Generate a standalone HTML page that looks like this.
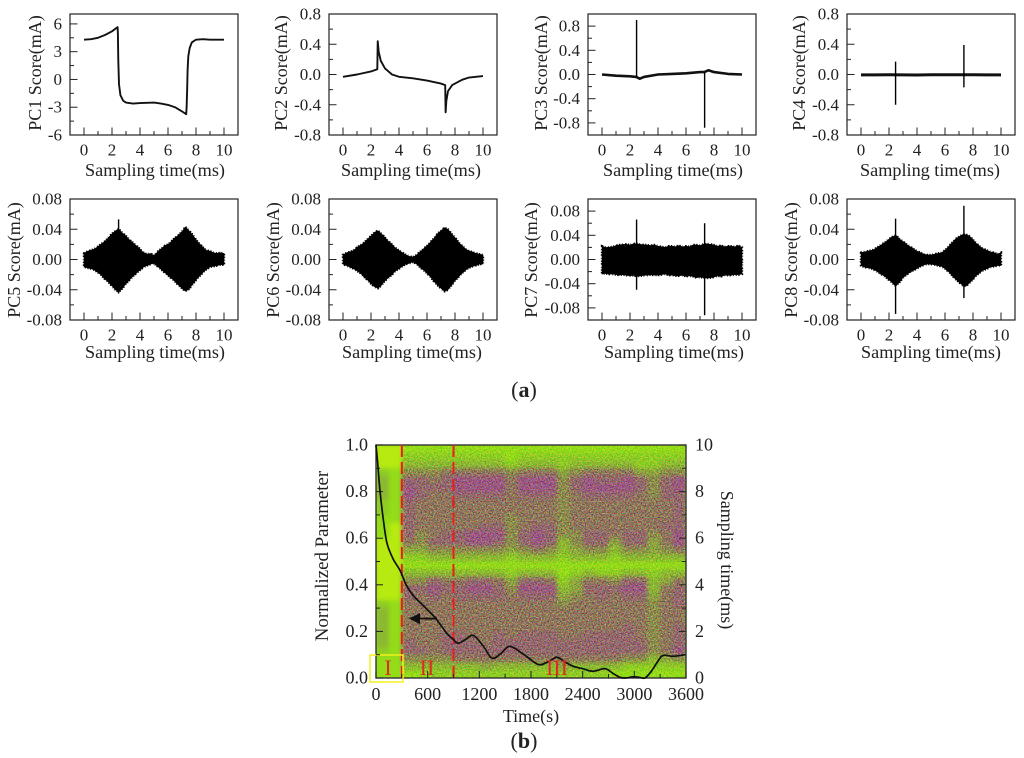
<!DOCTYPE html>
<html lang="en">
<head>
<meta charset="utf-8">
<title>PC scores and normalized parameter</title>
<style>
html,body{margin:0;padding:0;background:#fff;}
#figure{display:block;width:1024px;height:758px;filter:blur(0.35px);}
text{font-family:"Liberation Serif",serif;fill:#222;}
.tick{font-size:17px;}
.xt{font-size:18.2px;text-anchor:middle;}
.yt{font-size:18px;text-anchor:middle;}
.big{font-size:18px;}
</style>
</head>
<body>
<svg id="figure" xmlns="http://www.w3.org/2000/svg" width="1024" height="758" viewBox="0 0 1024 758">
  <defs>
    <filter id="soft" x="-5%" y="-5%" width="110%" height="110%" color-interpolation-filters="sRGB"><feGaussianBlur stdDeviation="2.2"/></filter>
    <filter id="grain" x="0" y="0" width="100%" height="100%" color-interpolation-filters="sRGB">
      <feTurbulence type="fractalNoise" baseFrequency="0.75" numOctaves="2" seed="4"/>
      <feColorMatrix type="matrix" values="2.2 0 0 0 -0.6  0 2.2 0 0 -0.6  0 0 2.2 0 -0.6  0 0 0 0 0.6"/>
    </filter>
    <clipPath id="heat-clip"><rect x="376" y="445" width="310" height="233"/></clipPath>
  </defs>
  <rect width="1024" height="758" fill="#fff"/>

  <g id="panel-pc1">
    <text class="xt" x="155" y="176">Sampling time(ms)</text>
    <text class="yt" transform="translate(41,73) rotate(-90)">PC1 Score(mA)</text>
  </g>
  <g id="panel-pc2">
    <text class="xt" x="411" y="176">Sampling time(ms)</text>
    <text class="yt" transform="translate(287,73) rotate(-90)">PC2 Score(mA)</text>
  </g>
  <g id="panel-pc3">
    <text class="xt" x="673" y="176">Sampling time(ms)</text>
    <text class="yt" transform="translate(547,73) rotate(-90)">PC3 Score(mA)</text>
  </g>
  <g id="panel-pc4">
    <text class="xt" x="930" y="176">Sampling time(ms)</text>
    <text class="yt" transform="translate(805,73) rotate(-90)">PC4 Score(mA)</text>
  </g>
  <g id="panel-pc5">
    <text class="xt" x="155" y="358">Sampling time(ms)</text>
    <text class="yt" transform="translate(20,260) rotate(-90)">PC5 Score(mA)</text>
  </g>
  <g id="panel-pc6">
    <text class="xt" x="412" y="358">Sampling time(ms)</text>
    <text class="yt" transform="translate(279,260) rotate(-90)">PC6 Score(mA)</text>
  </g>
  <g id="panel-pc7">
    <text class="xt" x="674" y="358">Sampling time(ms)</text>
    <text class="yt" transform="translate(537,260) rotate(-90)">PC7 Score(mA)</text>
  </g>
  <g id="panel-pc8">
    <text class="xt" x="931" y="358">Sampling time(ms)</text>
    <text class="yt" transform="translate(797,260) rotate(-90)">PC8 Score(mA)</text>
  </g>

  <text x="524" y="397" text-anchor="middle" style="font-size:22px">(<tspan font-weight="bold">a</tspan>)</text>

  <g id="panel-b">
    <g id="heat-layer" clip-path="url(#heat-clip)"></g>
    <g id="b-overlay"></g>
    <text class="big" x="531" y="722" text-anchor="middle">Time(s)</text>
    <text transform="translate(328,556) rotate(-90)" text-anchor="middle" style="font-size:18.9px">Normalized Parameter</text>
    <text class="big" transform="translate(721,560) rotate(90)" text-anchor="middle">Sampling time(ms)</text>
    <text x="388" y="675" text-anchor="middle" style="font-size:22px;fill:#e02a20">I</text>
    <text x="427" y="675" text-anchor="middle" style="font-size:22px;fill:#e02a20">II</text>
    <text x="557" y="675" text-anchor="middle" style="font-size:22px;fill:#e02a20">III</text>
  </g>
  <text x="524" y="748" text-anchor="middle" style="font-size:22px">(<tspan font-weight="bold">b</tspan>)</text>
</svg>

<script>
// ---------- shared x-axis labels ----------
const xTickLabels = ['0','2','4','6','8','10'];
const xTickValues = [0,2,4,6,8,10];
const xMinorValues = [1,3,5,7,9];

// ---------- PC1 ----------
const pc1Times = [0,0.5,1,1.5,2,2.4,2.42,2.45,2.5,2.6,2.8,3,3.5,4,5,5.5,6,6.5,7,7.3,7.33,7.37,7.4,7.45,7.55,7.7,8,8.5,9,10];
const pc1Scores = [4.3,4.35,4.5,4.8,5.2,5.65,5,2,-0.5,-1.7,-2.3,-2.5,-2.6,-2.55,-2.5,-2.6,-2.75,-3,-3.45,-3.75,-3,-1,1,2.5,3.4,4,4.3,4.35,4.3,4.3];
const pc1YTicks = [-6,-3,0,3,6];
const pc1YLabels = ['-6','-3','0','3','6'];

// ---------- PC2 ----------
const pc2Times = [0,1,2,2.45,2.48,2.55,2.7,3,3.5,4,5,6,7,7.3,7.33,7.38,7.5,7.8,8.5,9,10];
const pc2Scores = [-0.03,0,0.04,0.07,0.44,0.3,0.18,0.08,0,-0.03,-0.05,-0.08,-0.12,-0.14,-0.5,-0.35,-0.22,-0.14,-0.07,-0.04,-0.02];
const pc2YTicks = [-0.8,-0.4,0,0.4,0.8];
const pc2YLabels = ['-0.8','-0.4','0.0','0.4','0.8'];

// ---------- PC3 ----------
const pc3Times = [0,1,2,2.45,2.7,3,4,5,6,7,7.3,7.6,8,9,10];
const pc3Scores = [0,-0.02,-0.03,-0.04,-0.07,-0.04,0,0.01,0.02,0.04,0.04,0.07,0.04,0.01,0];
const pc3SpikeTimes = [2.47,7.33];
const pc3SpikeHigh = [0.9,0.04];
const pc3SpikeLow = [-0.03,-0.88];
const pc3YTicks = [-0.8,-0.4,0,0.4,0.8];
const pc3YLabels = ['-0.8','-0.4','0.0','0.4','0.8'];

// ---------- PC4 ----------
const pc4Times = [0,1,2,3,4,5,6,7,8,9,10];
const pc4Scores = [-0.005,-0.005,-0.004,-0.005,-0.006,-0.004,-0.003,-0.003,-0.004,-0.005,-0.005];
const pc4SpikeTimes = [2.47,7.35];
const pc4SpikeHigh = [0.17,0.39];
const pc4SpikeLow = [-0.4,-0.17];
const pc4YTicks = [-0.8,-0.4,0,0.4,0.8];
const pc4YLabels = ['-0.8','-0.4','0.0','0.4','0.8'];

// ---------- envelope panels PC5-PC8 ----------
const envTimes = [0,0.25,0.5,0.75,1,1.25,1.5,1.75,2,2.25,2.5,2.75,3,3.25,3.5,3.75,4,4.25,4.5,4.75,5,5.25,5.5,5.75,6,6.25,6.5,6.75,7,7.25,7.5,7.75,8,8.25,8.5,8.75,9,9.25,9.5,9.75,10];
const scoreYTicks = [-0.08,-0.04,0,0.04,0.08];
const scoreYLabels = ['-0.08','-0.04','0.00','0.04','0.08'];

const pc5Upper = [0.008,0.011,0.012,0.014,0.017,0.021,0.024,0.029,0.034,0.038,0.040,0.035,0.031,0.026,0.022,0.018,0.014,0.009,0.007,0.008,0.005,0.010,0.014,0.018,0.020,0.024,0.029,0.032,0.037,0.043,0.038,0.033,0.026,0.021,0.016,0.012,0.011,0.009,0.008,0.009,0.008];
const pc5Lower = [-0.010,-0.011,-0.012,-0.014,-0.017,-0.021,-0.026,-0.030,-0.035,-0.040,-0.043,-0.038,-0.032,-0.027,-0.022,-0.018,-0.014,-0.010,-0.008,-0.006,-0.005,-0.009,-0.013,-0.017,-0.021,-0.025,-0.029,-0.034,-0.038,-0.042,-0.039,-0.033,-0.027,-0.022,-0.017,-0.013,-0.010,-0.009,-0.008,-0.007,-0.007];
const pc5SpikeTimes = [2.47];
const pc5SpikeHigh = [0.053];
const pc5SpikeLow = [-0.045];

const pc6Upper = [0.006,0.009,0.010,0.012,0.016,0.019,0.022,0.027,0.031,0.036,0.038,0.034,0.029,0.024,0.020,0.015,0.012,0.009,0.006,0.004,0.003,0.006,0.010,0.014,0.018,0.023,0.028,0.034,0.038,0.042,0.040,0.034,0.029,0.023,0.018,0.014,0.011,0.010,0.008,0.007,0.006];
const pc6Lower = [-0.006,-0.008,-0.010,-0.012,-0.015,-0.018,-0.023,-0.027,-0.032,-0.036,-0.038,-0.034,-0.028,-0.024,-0.020,-0.015,-0.012,-0.009,-0.006,-0.005,-0.003,-0.006,-0.010,-0.014,-0.018,-0.023,-0.029,-0.034,-0.038,-0.042,-0.040,-0.034,-0.028,-0.023,-0.018,-0.014,-0.011,-0.009,-0.008,-0.006,-0.006];
const pc6SpikeTimes = [];
const pc6SpikeHigh = [];
const pc6SpikeLow = [];

const pc7Upper = [0.022,0.020,0.020,0.021,0.023,0.024,0.025,0.025,0.024,0.026,0.026,0.025,0.024,0.024,0.023,0.024,0.022,0.021,0.020,0.022,0.022,0.021,0.023,0.021,0.022,0.021,0.024,0.024,0.023,0.025,0.026,0.025,0.024,0.022,0.023,0.021,0.022,0.022,0.021,0.023,0.020];
const pc7Lower = [-0.024,-0.023,-0.024,-0.024,-0.025,-0.026,-0.025,-0.026,-0.027,-0.026,-0.028,-0.027,-0.026,-0.026,-0.025,-0.026,-0.026,-0.025,-0.024,-0.026,-0.026,-0.027,-0.027,-0.026,-0.028,-0.027,-0.028,-0.030,-0.029,-0.030,-0.031,-0.030,-0.029,-0.027,-0.028,-0.026,-0.026,-0.026,-0.025,-0.025,-0.024];
const pc7SpikeTimes = [2.47,7.33];
const pc7SpikeHigh = [0.066,0.060];
const pc7SpikeLow = [-0.050,-0.092];

const pc8Upper = [0.009,0.010,0.011,0.012,0.014,0.017,0.020,0.023,0.027,0.030,0.032,0.027,0.024,0.020,0.017,0.014,0.011,0.009,0.007,0.006,0.006,0.007,0.008,0.009,0.012,0.017,0.022,0.027,0.030,0.033,0.033,0.031,0.026,0.021,0.017,0.014,0.012,0.010,0.009,0.007,0.009];
const pc8Lower = [-0.008,-0.010,-0.011,-0.012,-0.014,-0.017,-0.020,-0.023,-0.027,-0.031,-0.035,-0.030,-0.024,-0.020,-0.017,-0.014,-0.012,-0.009,-0.007,-0.006,-0.006,-0.007,-0.008,-0.009,-0.012,-0.016,-0.021,-0.026,-0.030,-0.034,-0.035,-0.031,-0.026,-0.021,-0.017,-0.014,-0.012,-0.010,-0.009,-0.008,-0.008];
const pc8SpikeTimes = [2.47,7.35];
const pc8SpikeHigh = [0.054,0.071];
const pc8SpikeLow = [-0.072,-0.051];

// ---------- panel (b) ----------
const timeTickValues = [0,600,1200,1800,2400,3000,3600];
const timeTickLabels = ['0','600','1200','1800','2400','3000','3600'];
const normTickValues = [0,0.2,0.4,0.6,0.8,1];
const normTickLabels = ['0.0','0.2','0.4','0.6','0.8','1.0'];
const samplingTickValues = [0,2,4,6,8,10];
const samplingTickLabels = ['0','2','4','6','8','10'];
const regionBoundaries = [300,900];
const normTimes = [0,20,46,85,128,200,279,350,430,550,685,825,900,952,1040,1127,1240,1347,1450,1556,1720,1885,2000,2100,2190,2290,2400,2520,2660,2750,2834,2900,2985,3060,3124,3200,3270,3333,3450,3590];
const normValues = [1,0.92,0.805,0.68,0.578,0.51,0.462,0.40,0.355,0.31,0.26,0.19,0.165,0.149,0.165,0.183,0.14,0.085,0.105,0.136,0.10,0.058,0.07,0.089,0.07,0.05,0.04,0.029,0.04,0.02,0.003,0,0.005,0.003,0,0.03,0.07,0.097,0.093,0.10];
// Heatmap intensity: rows run from sampling time 10 ms (top) to 0 ms; columns are 150 s wide.
const heatRows = [
[0,0,1,1,1,1,1,1,1,1,1,1,1,1,1,1,1,1,1,1,1,1,1,1],
[0,0,2,2,2,2,2,2,2,2,1,2,2,2,2,2,2,2,2,2,2,2,2,2],
[0,0,3,3,3,3,3,3,3,3,2,3,3,3,2,3,3,3,3,3,2,2,3,3],
[2,1,5,5,5,6,6,6,6,6,5,6,6,6,4,5,6,6,6,6,4,4,5,5],
[3,1,7,7,6,7,8,8,8,8,6,8,8,8,5,7,8,7,7,8,7,5,7,8],
[3,1,8,7,7,7,8,8,8,8,6,8,8,8,5,7,8,8,8,8,7,5,7,8],
[3,1,8,7,6,6,7,7,7,7,6,7,7,7,5,6,7,7,7,7,6,5,7,7],
[2,1,7,6,6,6,6,6,6,6,6,6,6,6,5,6,6,6,6,6,6,6,6,7],
[2,1,7,6,6,6,6,6,6,6,6,6,6,6,5,6,6,6,6,6,6,6,6,7],
[1,1,7,6,6,6,6,6,6,6,5,6,6,6,5,6,6,6,6,6,6,6,6,7],
[1,0,7,6,6,6,6,6,7,7,5,6,7,7,5,6,6,6,6,6,6,6,7,7],
[1,0,7,5,6,7,7,8,8,8,5,7,8,7,5,5,7,7,6,7,7,5,6,8],
[0,0,6,5,7,7,7,8,8,7,5,7,8,7,3,5,7,7,4,7,7,4,6,8],
[0,0,4,4,5,5,5,5,5,5,4,5,6,5,3,4,5,5,3,5,5,4,5,6],
[0,0,2,2,3,3,3,3,3,3,2,3,3,3,2,3,3,3,2,3,3,3,3,3],
[0,0,1,1,1,1,1,1,1,1,1,1,1,1,1,1,1,1,1,1,1,1,1,1],
[0,0,3,3,3,3,3,3,3,3,2,3,3,3,1,2,3,2,2,3,3,2,3,3],
[0,0,5,5,7,6,6,7,7,6,4,7,7,6,2,4,6,6,5,7,7,3,4,6],
[0,0,7,7,8,7,7,8,8,7,5,8,8,8,3,4,7,7,7,8,8,3,6,7],
[0,0,7,6,7,6,7,7,7,7,6,7,7,7,4,5,6,7,6,7,7,4,6,7],
[2,1,6,6,6,6,6,6,6,6,6,6,6,6,5,6,6,6,6,6,6,5,6,7],
[3,1,6,6,6,6,6,6,6,6,6,6,6,6,6,6,6,6,6,6,6,5,6,6],
[3,1,6,6,6,6,6,6,6,6,6,6,6,6,6,6,6,6,6,6,6,5,6,6],
[3,1,6,6,6,6,6,6,6,6,6,6,6,6,6,6,6,6,6,7,6,5,6,7],
[3,1,6,6,6,7,7,6,6,7,6,7,7,7,6,6,7,7,7,7,6,5,6,7],
[3,1,7,6,6,7,7,7,6,7,7,7,7,7,7,7,7,7,7,7,7,5,6,7],
[2,1,7,7,6,7,7,7,7,7,7,7,7,7,7,7,7,7,7,7,7,5,6,8],
[1,1,5,5,5,5,6,6,6,6,6,6,6,6,6,6,6,6,6,5,5,3,4,5],
[1,1,3,3,3,3,3,3,4,3,3,3,3,3,4,3,3,3,3,2,2,2,2,2],
[1,1,1,1,2,2,2,2,2,2,2,2,2,2,2,2,2,2,1,1,1,1,1,1]
];
const heatPalette = ['#b6ea10','#94dc18','#8ecc24','#8cb832','#8ca440','#8c8c4c','#8f765c','#93686c','#9a5880','#a04a94'];

// ---------- drawing ----------
const NS = 'http://www.w3.org/2000/svg';
const INK = '#222';

function make(parent, tag, attrs) {
  const el = document.createElementNS(NS, tag);
  for (const k in attrs) el.setAttribute(k, attrs[k]);
  parent.appendChild(el);
  return el;
}

function linearScale(d0, d1, r0, r1) {
  return v => r0 + (v - d0) * (r1 - r0) / (d1 - d0);
}

function polyPath(xs, ys, sx, sy) {
  return xs.map((x, i) => (i ? 'L' : 'M') + sx(x).toFixed(2) + ' ' + sy(ys[i]).toFixed(2)).join('');
}

function drawFrame(g, prefix, box, yMin, yMax, yTicks, yLabels, sx, sy) {
  const frame = make(g, 'rect', {x: box.left, y: box.top, width: box.right - box.left, height: box.bottom - box.top, fill: 'none', stroke: INK, 'stroke-width': 1.2});
  
  

  xTickValues.forEach((v, i) => {
    const t = make(g, 'line', {x1: sx(v), x2: sx(v), y1: box.bottom, y2: box.bottom - 7.5, stroke: INK, 'stroke-width': 1});
    
    
    const lab = make(g, 'text', {class: 'tick', x: sx(v), y: box.bottom + 20.5, 'text-anchor': 'middle'});
    
    
    lab.textContent = xTickLabels[i];
  });
  xMinorValues.forEach(v => {
    const t = make(g, 'line', {x1: sx(v), x2: sx(v), y1: box.bottom, y2: box.bottom - 4, stroke: INK, 'stroke-width': 1});
    
    
  });
  const step = yTicks[1] - yTicks[0];
  yTicks.forEach((v, i) => {
    const t = make(g, 'line', {x1: box.left, x2: box.left + 7.5, y1: sy(v), y2: sy(v), stroke: INK, 'stroke-width': 1});
    
    
    const lab = make(g, 'text', {class: 'tick', x: box.left - 8, y: sy(v) + 5.5, 'text-anchor': 'end'});
    
    
    lab.textContent = yLabels[i];
    const mv = v + step / 2;
    if (mv < yMax && i < yTicks.length - 1) {
      const m = make(g, 'line', {x1: box.left, x2: box.left + 4, y1: sy(mv), y2: sy(mv), stroke: INK, 'stroke-width': 1});
      
      
    }
  });
}

function drawSpikes(g, prefix, times, highs, lows, sx, sy) {
  times.forEach((t, i) => {
    const s = make(g, 'line', {x1: sx(t), x2: sx(t), y1: sy(highs[i]), y2: sy(lows[i]), stroke: '#000', 'stroke-width': 1.4});
    
    
  });
}

function setupPanel(id, left, top, yMin, yMax) {
  const box = {left: left, right: left + 168, top: top, bottom: top + 121};
  return {
    g: document.getElementById('panel-' + id),
    box: box,
    sx: linearScale(-1, 11, box.left, box.right),
    sy: linearScale(yMin, yMax, box.bottom, box.top)
  };
}

function linePanel(id, left, top, yMin, yMax, yTicks, yLabels, times, scores, width, spikes) {
  const p = setupPanel(id, left, top, yMin, yMax);
  drawFrame(p.g, id, p.box, yMin, yMax, yTicks, yLabels, p.sx, p.sy);
  const line = make(p.g, 'path', {d: polyPath(times, scores, p.sx, p.sy), fill: 'none', stroke: '#111', 'stroke-width': width, 'stroke-linejoin': 'round'});
  
  
  if (spikes) drawSpikes(p.g, id, spikes[0], spikes[1], spikes[2], p.sx, p.sy);
}

function envelopePanel(id, left, top, yMin, yMax, yTicks, yLabels, upper, lower, spikes) {
  const p = setupPanel(id, left, top, yMin, yMax);
  drawFrame(p.g, id, p.box, yMin, yMax, yTicks, yLabels, p.sx, p.sy);
  const d = polyPath(envTimes, upper, p.sx, p.sy) +
    envTimes.slice().reverse().map((t, i) => 'L' + p.sx(t).toFixed(2) + ' ' + p.sy(lower[lower.length - 1 - i]).toFixed(2)).join('') + 'Z';
  const env = make(p.g, 'path', {d: d, fill: '#000', stroke: '#000', 'stroke-width': 0.6, 'stroke-linejoin': 'round'});
  
  
  const rough = make(p.g, 'path', {d: d, fill: 'none', stroke: '#000', 'stroke-width': 2.4, 'stroke-dasharray': '1.2 1.7 0.8 2.3 1.5 1.3'});
  
  
  drawSpikes(p.g, id, spikes[0], spikes[1], spikes[2], p.sx, p.sy);
}

linePanel('pc1', 70, 14, -6, 7.07, pc1YTicks, pc1YLabels, pc1Times, pc1Scores, 1.9);
linePanel('pc2', 329, 14, -0.8, 0.8, pc2YTicks, pc2YLabels, pc2Times, pc2Scores, 1.9);
linePanel('pc3', 588, 14, -1, 1, pc3YTicks, pc3YLabels, pc3Times, pc3Scores, 2.6, [pc3SpikeTimes, pc3SpikeHigh, pc3SpikeLow]);
linePanel('pc4', 847, 14, -0.8, 0.8, pc4YTicks, pc4YLabels, pc4Times, pc4Scores, 3, [pc4SpikeTimes, pc4SpikeHigh, pc4SpikeLow]);
envelopePanel('pc5', 70, 199, -0.08, 0.08, scoreYTicks, scoreYLabels, pc5Upper, pc5Lower, [pc5SpikeTimes, pc5SpikeHigh, pc5SpikeLow]);
envelopePanel('pc6', 329, 199, -0.08, 0.08, scoreYTicks, scoreYLabels, pc6Upper, pc6Lower, [pc6SpikeTimes, pc6SpikeHigh, pc6SpikeLow]);
envelopePanel('pc7', 588, 199, -0.1, 0.1, scoreYTicks, scoreYLabels, pc7Upper, pc7Lower, [pc7SpikeTimes, pc7SpikeHigh, pc7SpikeLow]);
envelopePanel('pc8', 847, 199, -0.08, 0.08, scoreYTicks, scoreYLabels, pc8Upper, pc8Lower, [pc8SpikeTimes, pc8SpikeHigh, pc8SpikeLow]);

// ---------- panel (b) drawing ----------
(function () {
  const left = 376, right = 686, top = 445, bottom = 678;
  const sxT = linearScale(0, 3600, left, right);
  const syN = linearScale(0, 1, bottom, top);
  const syS = linearScale(0, 10, bottom, top);
  const heat = document.getElementById('heat-layer');
  const g = document.getElementById('b-overlay');

  const base = make(heat, 'rect', {x: left, y: top, width: right - left, height: bottom - top, fill: heatPalette[1]});
  
  

  const cells = make(heat, 'g', {filter: 'url(#soft)'});
  
  
  const nRows = heatRows.length;
  heatRows.forEach((row, r) => {
    const y0 = syS(10 - r * 10 / nRows), y1 = syS(10 - (r + 1) * 10 / nRows);
    row.forEach((val, c) => {
      const x0 = sxT(c * 3600 / row.length), x1 = sxT((c + 1) * 3600 / row.length);
      const cell = make(cells, 'rect', {x: x0, y: y0, width: x1 - x0 + 0.5, height: y1 - y0 + 0.5, fill: heatPalette[val]});
      
      
    });
  });
  const grainX = sxT(regionBoundaries[0]);
  const grain = make(heat, 'rect', {x: grainX, y: top, width: right - grainX, height: bottom - top, fill: '#888', filter: 'url(#grain)', style: 'mix-blend-mode:overlay'});
  
  

  const frame = make(g, 'rect', {x: left, y: top, width: right - left, height: bottom - top, fill: 'none', stroke: '#333', 'stroke-width': 1.4});
  
  

  regionBoundaries.forEach(t => {
    const l = make(g, 'line', {x1: sxT(t), x2: sxT(t), y1: top, y2: bottom, stroke: '#ea1c1c', 'stroke-width': 2, 'stroke-dasharray': '12 5'});
    
    
  });

  const box = make(g, 'rect', {x: 370, y: 655, width: 33, height: 27, fill: 'none', stroke: '#f2f01e', 'stroke-width': 1.5});
  
  

  // ticks and tick labels
  timeTickValues.forEach((v, i) => {
    const t = make(g, 'line', {x1: sxT(v), x2: sxT(v), y1: bottom, y2: bottom - 7, stroke: '#222', 'stroke-width': 1});
    
    
    const lab = make(g, 'text', {class: 'big', x: sxT(v), y: 700, 'text-anchor': 'middle'});
    
    
    lab.textContent = timeTickLabels[i];
    if (i < timeTickValues.length - 1) {
      const mv = v + (timeTickValues[i + 1] - v) / 2;
      const m = make(g, 'line', {x1: sxT(mv), x2: sxT(mv), y1: bottom, y2: bottom - 4, stroke: '#222', 'stroke-width': 1});
      
      
    }
  });
  normTickValues.forEach((v, i) => {
    const t = make(g, 'line', {x1: left, x2: left + 7, y1: syN(v), y2: syN(v), stroke: '#222', 'stroke-width': 1});
    
    
    const lab = make(g, 'text', {class: 'big', x: 368, y: syN(v) + 5.5, 'text-anchor': 'end'});
    
    
    lab.textContent = normTickLabels[i];
    if (i < normTickValues.length - 1) {
      const mv = v + (normTickValues[i + 1] - v) / 2;
      const m = make(g, 'line', {x1: left, x2: left + 4, y1: syN(mv), y2: syN(mv), stroke: '#222', 'stroke-width': 1});
      
      
    }
  });
  samplingTickValues.forEach((v, i) => {
    const t = make(g, 'line', {x1: right, x2: right - 7, y1: syS(v), y2: syS(v), stroke: '#222', 'stroke-width': 1});
    
    
    const lab = make(g, 'text', {class: 'big', x: 695, y: syS(v) + 5.5, 'text-anchor': 'start'});
    
    
    lab.textContent = samplingTickLabels[i];
    if (i < samplingTickValues.length - 1) {
      const mv = v + (samplingTickValues[i + 1] - v) / 2;
      const m = make(g, 'line', {x1: right, x2: right - 4, y1: syS(mv), y2: syS(mv), stroke: '#222', 'stroke-width': 1});
      
      
    }
  });

  // smooth normalized-parameter curve through the read points
  const pts = normTimes.map((t, i) => [sxT(t), syN(normValues[i])]);
  let d = 'M' + pts[0][0].toFixed(2) + ' ' + pts[0][1].toFixed(2);
  for (let i = 0; i < pts.length - 1; i++) {
    const p0 = pts[Math.max(i - 1, 0)], p1 = pts[i], p2 = pts[i + 1], p3 = pts[Math.min(i + 2, pts.length - 1)];
    const c1x = p1[0] + (p2[0] - p0[0]) / 6, c1y = p1[1] + (p2[1] - p0[1]) / 6;
    const c2x = p2[0] - (p3[0] - p1[0]) / 6, c2y = p2[1] - (p3[1] - p1[1]) / 6;
    d += 'C' + c1x.toFixed(2) + ' ' + c1y.toFixed(2) + ' ' + c2x.toFixed(2) + ' ' + c2y.toFixed(2) + ' ' + p2[0].toFixed(2) + ' ' + p2[1].toFixed(2);
  }
  const curve = make(g, 'path', {d: d, fill: 'none', stroke: '#111', 'stroke-width': 1.7, 'stroke-linejoin': 'round'});
  
  

  // arrow pointing to left axis
  const ay = syN(0.255);
  const shaft = make(g, 'line', {x1: 437, x2: 415, y1: ay, y2: ay, stroke: '#111', 'stroke-width': 1.8});
  
  
  const head = make(g, 'polygon', {points: '409,' + ay + ' 420,' + (ay - 5.5) + ' 420,' + (ay + 5.5), fill: '#111'});
  
  
})();
</script>
</body>
</html>
